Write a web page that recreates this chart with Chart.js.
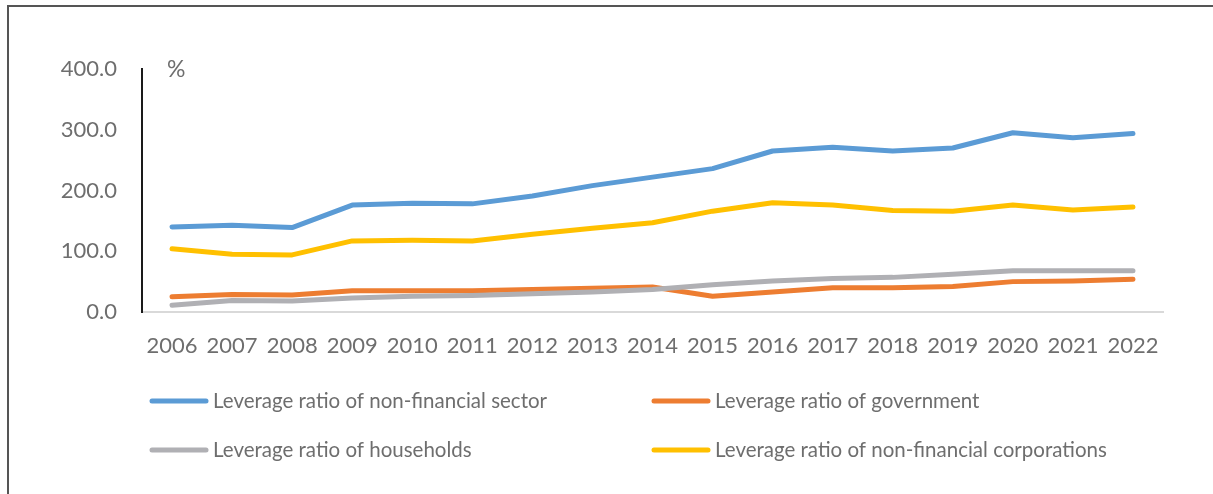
<!DOCTYPE html>
<html>
<head>
<meta charset="utf-8">
<script src="https://cdn.jsdelivr.net/npm/chart.js@4.4.1/dist/chart.umd.min.js"></script>
<style>
  html, body { margin: 0; padding: 0; background: #fff; }
  #wrap { position: relative; width: 1213px; height: 494px; overflow: hidden; }
  #frame {
    position: absolute; left: 7px; top: 5px; width: 1300px; height: 600px;
    border-left: 2px solid #555; border-top: 2px solid #555;
  }
  #leverage { position: absolute; left: 0; top: 0; }
</style>
</head>
<body>
<div id="wrap">
  <div id="frame"></div>
  <canvas id="leverage" width="1213" height="494"></canvas>
</div>
<script>
// Leverage ratios, % of GDP
var years = ['2006', '2007', '2008', '2009', '2010', '2011', '2012', '2013', '2014',
  '2015', '2016', '2017', '2018', '2019', '2020', '2021', '2022'];
var nonFinancial = [140, 143, 139, 176, 179, 178, 191, 208, 222, 236, 265, 271, 265, 270, 295, 287, 294];
var government = [25, 29, 28, 35, 35, 35, 37, 39, 41, 26, 33, 40, 40, 42, 50, 51, 54];
var households = [11, 19, 18, 23, 26, 27, 30, 33, 37, 45, 51, 55, 57, 62, 68, 68, 68];
var corporations = [104, 95, 94, 117, 118, 117, 128, 138, 147, 166, 180, 176, 167, 166, 176, 168, 173];
var yTicks = [0, 100, 200, 300, 400];

var textColor = '#6e6e6e';
var fontFamily = 'Lato, "Open Sans", sans-serif';

// "%" unit next to the top of the y axis
var unitLabel = {
  id: 'unitLabel',
  afterDraw: function (chart) {
    var ctx = chart.ctx;
    ctx.save();
    ctx.font = '23px ' + fontFamily;
    ctx.fillStyle = textColor;
    ctx.textAlign = 'left';
    ctx.textBaseline = 'middle';
    ctx.fillText('%', chart.chartArea.left + 25, chart.chartArea.top + 1);
    ctx.restore();
  }
};

// two-column legend under the axis
var gridLegend = {
  id: 'gridLegend',
  afterDraw: function (chart) {
    var ctx = chart.ctx;
    var colX = [150, 652];
    var rowY = [401, 450];
    ctx.save();
    ctx.font = '20.5px ' + fontFamily;
    ctx.textBaseline = 'middle';
    chart.data.datasets.forEach(function (ds, i) {
      var x = colX[i % 2];
      var y = rowY[Math.floor(i / 2)];
      ctx.strokeStyle = ds.borderColor;
      ctx.lineWidth = 5;
      ctx.lineCap = 'round';
      ctx.beginPath();
      ctx.moveTo(x + 2, y);
      ctx.lineTo(x + 56, y);
      ctx.stroke();
      ctx.fillStyle = textColor;
      ctx.fillText(ds.label, x + 63, y);
    });
    ctx.restore();
  }
};

function line(label, data, color, order) {
  return {
    label: label,
    data: data,
    borderColor: color,
    backgroundColor: color,
    borderWidth: 5,
    borderCapStyle: 'round',
    borderJoinStyle: 'round',
    pointRadius: 0,
    tension: 0,
    order: order
  };
}

var ctx = document.getElementById('leverage').getContext('2d');
var chart = new Chart(ctx, {
  type: 'line',
  data: {
    labels: years,
    datasets: [
      line('Leverage ratio of non-financial sector', nonFinancial, '#5b9bd5', 4),
      line('Leverage ratio of government', government, '#ed7d31', 3),
      line('Leverage ratio of households', households, '#b0b0b4', 2),
      line('Leverage ratio of non-financial corporations', corporations, '#ffc000', 1)
    ]
  },
  options: {
    responsive: false,
    animation: false,
    layout: { padding: { left: 0, top: 69, right: 50, bottom: 0 } },
    plugins: { legend: { display: false }, tooltip: { enabled: false } },
    scales: {
      x: {
        offset: true,
        grid: { display: false, drawTicks: false },
        border: { display: true, color: '#d9d9d9', width: 2 },
        ticks: {
          color: textColor,
          font: { family: fontFamily, size: 22 },
          padding: 21,
          autoSkip: false,
          maxRotation: 0
        },
        afterFit: function (scale) { scale.height = 182; }
      },
      y: {
        min: 0,
        max: 400,
        grid: { display: false, drawTicks: false },
        border: { display: true, color: '#1a1a1a', width: 2 },
        afterBuildTicks: function (scale) {
          scale.ticks = yTicks.map(function (v) { return { value: v }; });
        },
        ticks: {
          color: textColor,
          font: { family: fontFamily, size: 22 },
          padding: 25,
          callback: function (v) { return Number(v).toFixed(1); }
        },
        afterFit: function (scale) { scale.width = 142; }
      }
    }
  },
  plugins: [unitLabel, gridLegend]
});
</script>
</body>
</html>
